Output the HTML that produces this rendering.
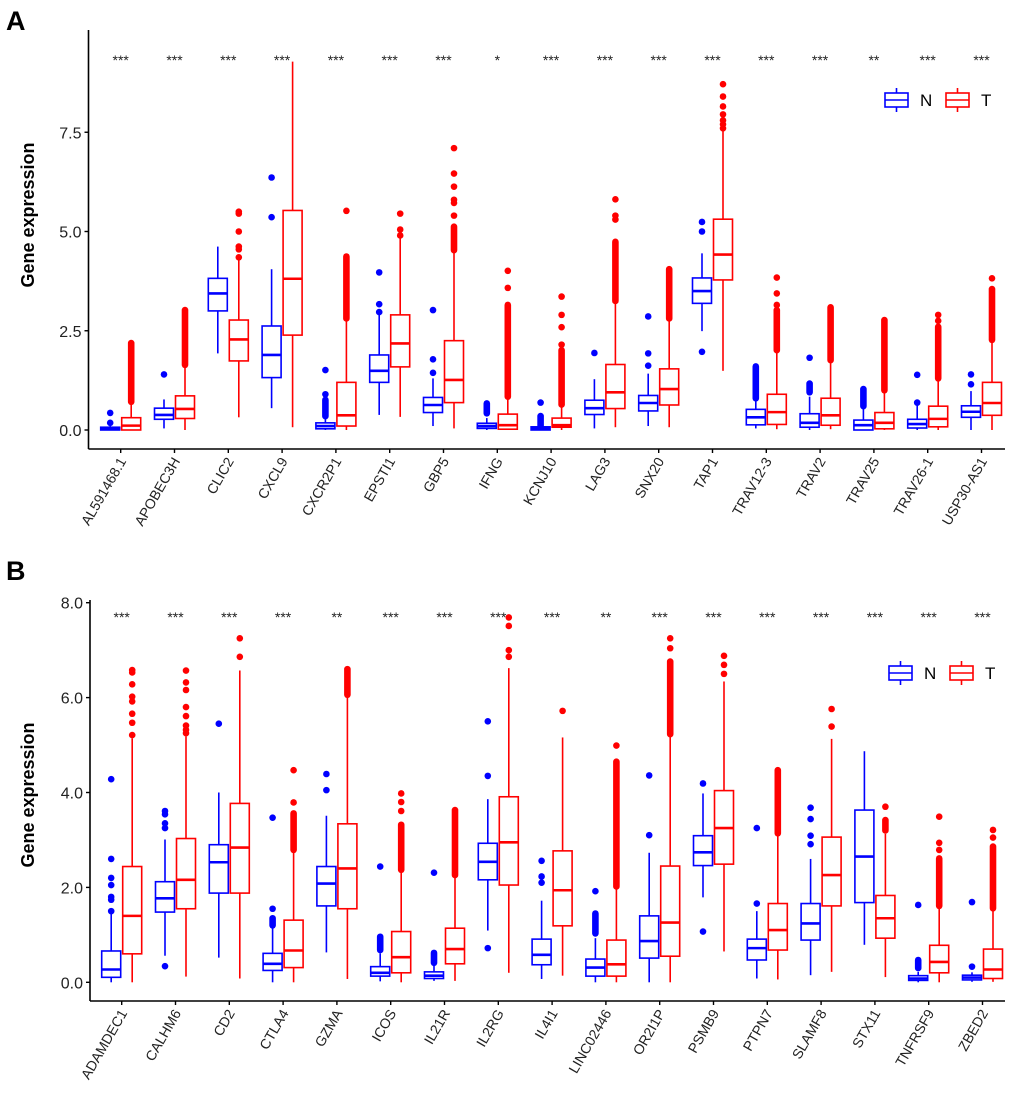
<!DOCTYPE html>
<html><head><meta charset="utf-8"><style>
body{margin:0;background:#fff}
svg{display:block;font-family:"Liberation Sans",Arial,sans-serif}
</style></head><body>
<svg id="chart" width="1020" height="1098" viewBox="0 0 1020 1098"></svg>
<script>
// ---------- Panel A data ----------
const genesA=["AL591468.1","APOBEC3H","CLIC2","CXCL9","CXCR2P1","EPSTI1","GBP5","IFNG","KCNJ10","LAG3","SNX20","TAP1","TRAV12-3","TRAV2","TRAV25","TRAV26-1","USP30-AS1"];
const sigA=["***","***","***","***","***","***","***","*","***","***","***","***","***","***","**","***","***"];
// [lo,q1,med,q3,hi]
const nStatsA=[[0,0,0.02,0.07,0.1],[0.04,0.27,0.38,0.55,0.77],[1.93,3.0,3.44,3.82,4.62],[0.55,1.32,1.89,2.62,4.05],[0,0.03,0.1,0.18,0.3],[0.38,1.2,1.49,1.89,2.94],[0.1,0.44,0.63,0.82,1.3],[0,0.04,0.1,0.17,0.3],[0,0,0.03,0.08,0.1],[0.04,0.39,0.55,0.75,1.28],[0.1,0.48,0.68,0.87,1.42],[2.49,3.19,3.5,3.83,4.45],[0.04,0.13,0.32,0.52,0.8],[0,0.07,0.18,0.41,0.84],[0,0,0.12,0.25,0.55],[0,0.05,0.15,0.27,0.63],[0,0.32,0.46,0.61,0.98]];
const tStatsA=[[0,0,0.11,0.31,0.71],[0,0.29,0.53,0.86,1.64],[0.32,1.74,2.28,2.77,4.3],[0.07,2.39,3.81,5.53,9.28],[0,0.1,0.37,1.2,2.81],[0.33,1.59,2.18,2.9,4.87],[0.04,0.69,1.26,2.25,4.53],[0,0.02,0.12,0.4,0.84],[0,0.07,0.12,0.3,0.64],[0.07,0.54,0.95,1.65,3.25],[0.07,0.63,1.03,1.54,2.81],[1.49,3.78,4.42,5.31,7.56],[0.02,0.14,0.45,0.9,2.01],[0.02,0.12,0.37,0.8,1.76],[0,0.03,0.18,0.44,1.0],[0,0.08,0.28,0.6,1.3],[0,0.37,0.68,1.2,2.27]];
const nDenseA=[null,null,null,null,[0.35,0.76],null,null,[0.42,0.67],[0.1,0.35],null,null,null,[0.8,1.6],[0.95,1.17],[0.6,1.03],null,null];
const tDenseA=[[0.71,2.19],[1.64,3.02],null,null,[2.81,4.37],null,[4.53,5.12],[0.84,3.15],[0.64,2.01],[3.25,4.74],[2.81,4.05],null,[2.01,3.02],[1.76,3.09],[1.0,2.77],[1.3,2.6],[2.27,3.55]];
const nOutA=[[0.43,0.18],[1.40],[],[5.36,6.36],[0.9,1.51],[2.97,3.17,3.97],[1.44,1.78,3.02],[],[0.69],[1.94],[1.62,1.93,2.86],[5.0,5.24,1.97],[],[1.82],[],[0.69,1.39],[1.15,1.4]];
const tOutA=[[],[],[4.35,4.55,4.62,5.0,5.45,5.5],[],[5.52],[4.9,5.05,5.45],[5.4,5.72,5.8,6.13,6.46,7.1],[3.58,4.01],[2.15,2.59,2.9,3.36],[5.3,5.4,5.81],[],[7.6,7.7,7.8,7.95,8.15,8.4,8.71],[3.15,3.44,3.84],[],[],[2.75,2.9],[3.82]];
const ticksA=[0,2.5,5,7.5];
const tickLabelsA=["0.0","2.5","5.0","7.5"];
// ---------- Panel B data ----------
const genesB=["ADAMDEC1","CALHM6","CD2","CTLA4","GZMA","ICOS","IL21R","IL2RG","IL4I1","LINC02446","OR2I1P","PSMB9","PTPN7","SLAMF8","STX11","TNFRSF9","ZBED2"];
const sigB=["***","***","***","***","**","***","***","***","***","**","***","***","***","***","***","***","***"];
const nStatsB=[[0,0.105,0.27,0.66,1.45],[0.56,1.48,1.77,2.12,3.01],[0.52,1.88,2.53,2.9,4.0],[0,0.25,0.39,0.61,1.21],[0.63,1.61,2.08,2.44,3.51],[0.02,0.13,0.2,0.33,0.61],[0.03,0.08,0.14,0.22,0.41],[1.09,2.16,2.54,2.93,3.86],[0.07,0.37,0.58,0.91,1.72],[0,0.13,0.31,0.49,0.93],[0,0.51,0.87,1.4,2.73],[1.79,2.46,2.74,3.09,3.98],[0.08,0.47,0.72,0.91,1.5],[0.15,0.89,1.24,1.66,2.6],[0.79,1.68,2.65,3.63,4.87],[0,0.04,0.08,0.14,0.22],[0.01,0.05,0.1,0.15,0.21]];
const tStatsB=[[0,0.6,1.4,2.44,5.14],[0.12,1.55,2.16,3.03,5.18],[0.08,1.88,2.84,3.77,6.57],[0,0.31,0.67,1.31,2.79],[0.07,1.55,2.4,3.34,6.06],[0,0.2,0.53,1.07,2.37],[0.03,0.39,0.7,1.14,2.26],[0.2,2.05,2.95,3.91,6.62],[0.14,1.19,1.94,2.77,5.16],[0,0.13,0.38,0.89,2.02],[0,0.55,1.26,2.45,5.23],[0.65,2.49,3.25,4.04,6.34],[0.06,0.68,1.1,1.66,3.14],[0.22,1.61,2.26,3.06,5.13],[0.11,0.93,1.35,1.83,3.13],[0,0.2,0.43,0.78,1.61],[0.01,0.08,0.27,0.7,1.56]];
const nDenseB=[null,null,null,[1.2,1.35],null,[0.68,0.96],[0.41,0.62],null,null,[1.03,1.45],null,null,null,null,null,[0.3,0.47],null];
const tDenseB=[null,null,null,[2.79,3.56],[6.06,6.6],[2.37,3.32],[2.26,3.63],null,null,[2.02,4.65],[5.23,6.76],null,[3.14,4.47],null,[3.2,3.42],[1.61,2.61],[1.56,2.86]];
const nOutB=[[1.5,1.74,1.8,2.05,2.2,2.6,4.28],[0.34,3.25,3.35,3.54,3.61],[5.45],[1.55,3.47],[4.05,4.39],[2.44],[2.31],[4.35,5.5,0.72],[2.1,2.23,2.56],[1.92],[3.1,4.36],[4.19,1.07],[1.66,3.25],[2.91,3.09,3.44,3.68],[],[1.63],[0.33,1.69]];
const tOutB=[[5.21,5.47,5.66,5.92,6.02,6.28,6.53,6.58],[5.25,5.32,5.41,5.61,5.8,6.16,6.32,6.57],[6.86,7.25],[3.79,4.47],[],[3.61,3.8,3.98],[],[6.86,7.0,7.51,7.69],[5.72],[4.99],[7.04,7.25],[6.5,6.69,6.88],[],[5.39,5.76],[3.7],[2.79,2.94,3.49],[3.05,3.21]];
const ticksB=[0,2,4,6,8];
const tickLabelsB=["0.0","2.0","4.0","6.0","8.0"];

const NS="http://www.w3.org/2000/svg";
const svg=document.getElementById('chart');
function mk(tag,attrs,parent,text){const e=document.createElementNS(NS,tag);for(const k in attrs)e.setAttribute(k,attrs[k]);if(text!==undefined)e.textContent=text;(parent||svg).appendChild(e);return e;}

function panel(cfg){
  const g=mk('g',{});
  
  
  const y=v=>cfg.y0-v*cfg.ppu;
  const xc=i=>cfg.x0+i*cfg.step;
  const L=mk('text',{x:6,y:cfg.letterY,'font-size':27,'font-weight':'bold'},g,cfg.letter);
  
  
  const yt=mk('text',{x:0,y:0,'font-size':18,'font-weight':'bold','text-anchor':'middle',transform:`translate(34,${cfg.titleY}) rotate(-90)`},g,'Gene expression');
  
  
  const ya=mk('line',{x1:cfg.axisX,y1:cfg.top,x2:cfg.axisX,y2:cfg.bottom,stroke:'#000','stroke-width':1.6},g);
  
  
  const xa=mk('line',{x1:cfg.axisX,y1:cfg.bottom,x2:1005,y2:cfg.bottom,stroke:'#000','stroke-width':1.6},g);
  
  
  cfg.ticks.forEach((t,i)=>{
    mk('line',{x1:cfg.axisX-4,x2:cfg.axisX,y1:y(t),y2:y(t),stroke:'#000','stroke-width':1.4},g);
    const tl=mk('text',{x:cfg.axisX-7,y:y(t)+6,'font-size':16,'text-anchor':'end',fill:'#222'},g,cfg.tickLabels[i]);
    
    
  });
  cfg.genes.forEach((gn,i)=>{
    const cx=xc(i);
    mk('line',{x1:cx,x2:cx,y1:cfg.bottom,y2:cfg.bottom+4,stroke:'#000','stroke-width':1.4},g);
    const lb=mk('text',{x:0,y:0,'font-size':14,'text-anchor':'end',fill:'#222',transform:`translate(${cx+6},${cfg.bottom+12}) rotate(-60)`},g,gn);
    
    
    const st=mk('text',{x:cx,y:cfg.starY,'font-size':14,'text-anchor':'middle',fill:'#222'},g,cfg.sig[i]);
    
    
    [['N',-10.5,'#0000ff',cfg.nStats,cfg.nDense,cfg.nOut],['T',10.5,'#ff0000',cfg.tStats,cfg.tDense,cfg.tOut]].forEach(([grp,off,col,S,D,O])=>{
      const bx=cx+off, s=S[i], hw=9.5;
      const bg=mk('g',{stroke:col,fill:col,'stroke-width':1.6},g);
      
      
      if(D[i]){mk('line',{x1:bx,x2:bx,y1:y(D[i][0]),y2:y(D[i][1]),'stroke-width':6.6,'stroke-linecap':'round'},bg);}
      O[i].forEach(v=>{const c=mk('circle',{cx:bx,cy:y(v),r:3.3,stroke:'none'},bg);});
      mk('line',{x1:bx,x2:bx,y1:y(s[0]),y2:y(s[1])},bg);
      mk('line',{x1:bx,x2:bx,y1:y(s[3]),y2:y(s[4])},bg);
      mk('rect',{x:bx-hw,y:y(s[3]),width:hw*2,height:Math.max(y(s[1])-y(s[3]),0.5),fill:'#fff'},bg);
      mk('line',{x1:bx-hw,x2:bx+hw,y1:y(s[2]),y2:y(s[2]),'stroke-width':2.6},bg);
    });
  });
  const lg=mk('g',{},g);
  
  
  [['N',cfg.legX,'#0000ff'],['T',cfg.legX+61,'#ff0000']].forEach(([n,lx,col])=>{
    const e=mk('g',{stroke:col,'stroke-width':1.6,fill:'none'},lg);
    
    
    const ly=cfg.legY;
    mk('line',{x1:lx+11.5,x2:lx+11.5,y1:ly-12,y2:ly+12},e);
    mk('rect',{x:lx,y:ly-7,width:23,height:14,fill:'#fff'},e);
    mk('line',{x1:lx,x2:lx+23,y1:ly,y2:ly},e);
    mk('text',{x:lx+35,y:ly+6,'font-size':17,fill:'#000',stroke:'none'},e,n);
  });
}
panel({name:'panel-a',letter:'A',letterY:30,titleY:215,genes:genesA,sig:sigA,nStats:nStatsA,tStats:tStatsA,nDense:nDenseA,tDense:tDenseA,nOut:nOutA,tOut:tOutA,ticks:ticksA,tickLabels:tickLabelsA,y0:430,ppu:39.7,x0:120.7,step:53.8,axisX:88.5,top:30,bottom:449,starY:65,legX:885,legY:100});
panel({name:'panel-b',letter:'B',letterY:580,titleY:795,genes:genesB,sig:sigB,nStats:nStatsB,tStats:tStatsB,nDense:nDenseB,tDense:tDenseB,nOut:nOutB,tOut:tOutB,ticks:ticksB,tickLabels:tickLabelsB,y0:982.3,ppu:47.45,x0:121.7,step:53.8,axisX:90,top:600,bottom:1001,starY:622,legX:889,legY:673});
</script>
</body></html>
